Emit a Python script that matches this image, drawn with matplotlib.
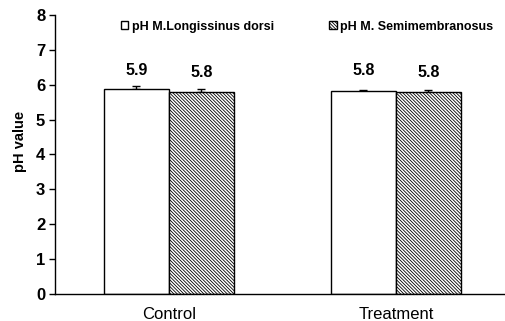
import matplotlib
matplotlib.use("Agg")
import matplotlib.pyplot as plt
import numpy as np

categories = ["Control", "Treatment"]
series_names = ["pH M.Longissinus dorsi", "pH M. Semimembranosus"]
ld_values = [5.88, 5.83]
sm_values = [5.80, 5.80]
ld_err = [0.08, 0.02]
sm_err = [0.08, 0.05]
ld_labels = ["5.9", "5.8"]
sm_labels = ["5.8", "5.8"]
yticks = [0, 1, 2, 3, 4, 5, 6, 7, 8]

plt.rcParams['font.family'] = ['Liberation Sans', 'DejaVu Sans']
plt.rcParams['hatch.linewidth'] = 0.6

fig = plt.figure(figsize=(5.06, 3.21), dpi=100)
ax = fig.add_axes([0.1087, 0.0841, 0.8913, 0.8692])

x = np.arange(len(categories))
w = 0.286
b1 = ax.bar(x - w / 2, ld_values, w, color='white', edgecolor='black', linewidth=1.0,
            label=series_names[0], zorder=2)
b2 = ax.bar(x + w / 2, sm_values, w, color='white', edgecolor='black', linewidth=1.0,
            hatch='\\' * 10, label=series_names[1], zorder=2)
ax.errorbar(x - w / 2, ld_values, yerr=[np.zeros(2), ld_err], fmt='none', ecolor='black',
            elinewidth=1, capsize=3, capthick=1, zorder=1)
ax.errorbar(x + w / 2, sm_values, yerr=[np.zeros(2), sm_err], fmt='none', ecolor='black',
            elinewidth=1, capsize=3, capthick=1, zorder=1)

for xi, t in zip(x - w / 2, ld_labels):
    ax.text(xi, 6.4, t, ha='center', va='center', fontsize=11.5, fontweight='bold')
for xi, t in zip(x + w / 2, sm_labels):
    ax.text(xi, 6.35, t, ha='center', va='center', fontsize=11.5, fontweight='bold')

ax.set_xlim(-0.502, 1.485)
ax.set_ylim(0, 8)
ax.set_yticks(yticks)
ax.set_xticks(x)
ax.set_xticklabels(categories, fontsize=12)
ax.tick_params(axis='x', length=0, pad=9)
ax.tick_params(axis='y', direction='out', length=4, width=1, labelsize=12, pad=3)
for lab in ax.get_yticklabels():
    lab.set_fontweight('bold')
ax.spines['top'].set_visible(False)
ax.spines['right'].set_visible(False)
ax.spines['left'].set_linewidth(1)
ax.spines['bottom'].set_linewidth(1)
ax.set_ylabel("pH value", fontsize=10.5, fontweight='bold')
ax.yaxis.set_label_coords(-0.062, 0.548)

leg = ax.legend(ncol=2, loc='center left', bbox_to_anchor=(0.146, 0.958), frameon=False,
                handlelength=0.6, handleheight=0.6, handletextpad=0.3, columnspacing=4.4,
                borderaxespad=0, borderpad=0,
                prop={'size': 9.0, 'weight': 'bold'})

fig.savefig("out.png", dpi=100)
